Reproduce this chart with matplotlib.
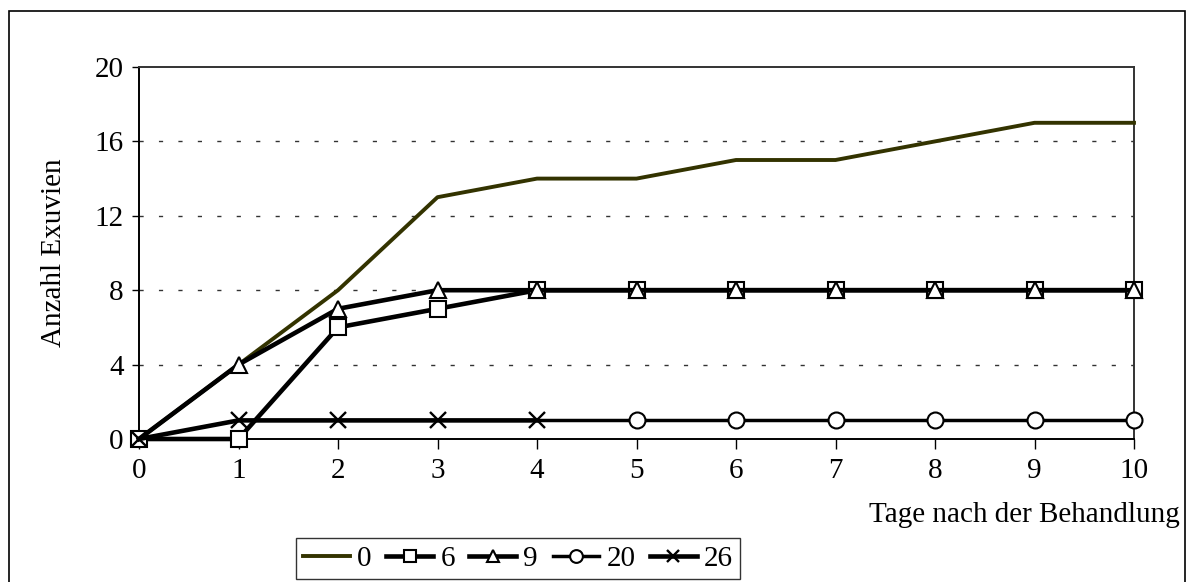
import numpy as np
import matplotlib
matplotlib.use("Agg")
import matplotlib.pyplot as plt
from matplotlib.patches import Rectangle

plt.rcParams["font.family"] = ["Liberation Serif", "DejaVu Serif"]

# Data
days = [0, 1, 2, 3, 4, 5, 6, 7, 8, 9, 10]
conc_0 = [0, 4, 8, 13, 14, 14, 15, 15, 16, 17, 17]
conc_6 = [0, 0, 6, 7, 8, 8, 8, 8, 8, 8, 8]
conc_9 = [0, 4, 7, 8, 8, 8, 8, 8, 8, 8, 8]
conc_20 = [np.nan, np.nan, np.nan, np.nan, 1, 1, 1, 1, 1, 1, 1]
conc_26 = [0, 1, 1, 1, 1, np.nan, np.nan, np.nan, np.nan, np.nan, np.nan]
labels = ["0", "6", "9", "20", "26"]
y_ticks = [0, 4, 8, 12, 16, 20]

fs = 21

fig = plt.figure(figsize=(11.91, 5.82), dpi=100)
ax = fig.add_axes([139 / 1191, 1 - 439 / 582, (1134 - 139) / 1191, (439 - 67) / 582])

#outer frame of the chart
fig.patches.append(Rectangle((9 / 1191, -0.05), (1185 - 9) / 1191, 1.05 - 11 / 582,
                             transform=fig.transFigure, fill=False, edgecolor="black", lw=1.2))

ms = 11.5
ax.plot(days, conc_0, color="#333300", lw=2.8, label=labels[0], zorder=3, clip_on=False)
ax.plot(days, conc_6, color="black", lw=3.3, marker="s", ms=ms, mfc="white", mec="black",
        mew=1.5, label=labels[1], zorder=4, clip_on=False)
ax.plot(days, conc_9, color="black", lw=3.3, marker="^", ms=ms, mfc="white", mec="black",
        mew=1.5, markevery=list(range(1, 11)), label=labels[2], zorder=5, clip_on=False)
ax.plot(days, conc_20, color="black", lw=2.5, marker="o", ms=ms, mfc="white", mec="black",
        mew=1.5, markevery=list(range(5, 11)), label=labels[3], zorder=4, clip_on=False)
ax.plot(days, conc_26, color="black", lw=3.3, marker="x", ms=ms, mec="black",
        mew=1.7, label=labels[4], zorder=6, clip_on=False)

ax.set_xlim(0, 10)
ax.set_ylim(0, 20)
ax.set_xticks(days)
ax.set_yticks(y_ticks)
ax.tick_params(axis="both", direction="out", labelsize=fs, color="black")
ax.tick_params(axis="x", length=7, width=1, pad=7)
ax.tick_params(axis="y", length=5, width=1, pad=6)
for sp in ax.spines.values():
    sp.set_linewidth(1.4)
ax.spines["top"].set_color("#333333")
ax.spines["right"].set_color("#333333")

#dashed grid
for y in y_ticks[1:-1]:
    ax.axhline(y, color="#333333", lw=1, ls=(0, (3, 11)), zorder=1)

ax.set_ylabel("Anzahl Exuvien", fontsize=fs, labelpad=20)
fig.text(1180 / 1191, 1 - 515 / 582, "Tage nach der Behandlung", fontsize=fs,
         ha="right", va="center")

leg = fig.legend(loc="upper left", bbox_to_anchor=(296 / 1191, 1 - 538 / 582), ncol=5,
                 fontsize=fs, frameon=True, fancybox=False, handlelength=1.6,
                 handletextpad=0.25, columnspacing=0.5, borderpad=0.25, borderaxespad=0,
                 markerscale=0.8)
leg.get_frame().set_edgecolor("black")
leg.get_frame().set_linewidth(1)

fig.savefig("out.png", dpi=100)
